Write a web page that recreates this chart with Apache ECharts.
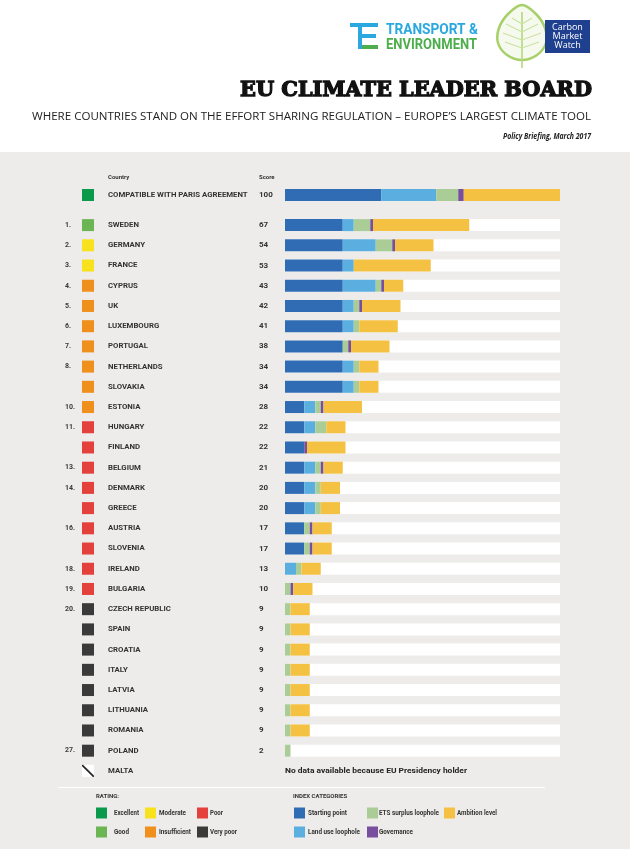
<!DOCTYPE html>
<html><head><meta charset="utf-8">
<script src="https://cdn.jsdelivr.net/npm/echarts@6/dist/echarts.min.js"></script>
<style>
html,body{margin:0;padding:0;background:#fff;}
#c{width:630px;height:849px;background:linear-gradient(#ffffff 0px,#ffffff 152px,#edecea 152px,#edecea 849px);}
</style>
</head><body><div id="c"></div>
<script>
// ---------- DATA ----------
const indexCategories = ['Starting point', 'Land use loophole', 'ETS surplus loophole', 'Governance', 'Ambition level'];
const ratingNames = ['Excellent', 'Good', 'Moderate', 'Insufficient', 'Poor', 'Very poor'];
const ratingKeys = ['excellent', 'good', 'moderate', 'insufficient', 'poor', 'verypoor'];

const parisName = 'COMPATIBLE WITH PARIS AGREEMENT';
const parisScore = 100;
const parisValues = [35, 20, 8, 2, 35]; // in indexCategories order
const maxScore = 100;

const countries = ['SWEDEN', 'GERMANY', 'FRANCE', 'CYPRUS', 'UK', 'LUXEMBOURG', 'PORTUGAL', 'NETHERLANDS', 'SLOVAKIA', 'ESTONIA',
  'HUNGARY', 'FINLAND', 'BELGIUM', 'DENMARK', 'GREECE', 'AUSTRIA', 'SLOVENIA', 'IRELAND', 'BULGARIA', 'CZECH REPUBLIC',
  'SPAIN', 'CROATIA', 'ITALY', 'LATVIA', 'LITHUANIA', 'ROMANIA', 'POLAND', 'MALTA'];
const ranks = ['1.', '2.', '3.', '4.', '5.', '6.', '7.', '8.', '', '10.',
  '11.', '', '13.', '14.', '', '16.', '', '18.', '19.', '20.',
  '', '', '', '', '', '', '27.', ''];
const ratings = ['good', 'moderate', 'moderate', 'insufficient', 'insufficient', 'insufficient', 'insufficient', 'insufficient', 'insufficient', 'insufficient',
  'poor', 'poor', 'poor', 'poor', 'poor', 'poor', 'poor', 'poor', 'poor', 'verypoor',
  'verypoor', 'verypoor', 'verypoor', 'verypoor', 'verypoor', 'verypoor', 'verypoor', 'none'];
const scores = [67, 54, 53, 43, 42, 41, 38, 34, 34, 28, 22, 22, 21, 20, 20, 17, 17, 13, 10, 9, 9, 9, 9, 9, 9, 9, 2, null];
const startingPoint = [21, 21, 21, 21, 21, 21, 21, 21, 21, 7, 7, 7, 7, 7, 7, 7, 7, 0, 0, 0, 0, 0, 0, 0, 0, 0, 0, null];
const landUse = [4, 12, 4, 12, 4, 4, 0, 4, 4, 4, 4, 0, 4, 4, 4, 0, 0, 4, 0, 0, 0, 0, 0, 0, 0, 0, 0, null];
const etsSurplus = [6, 6, 0, 2, 2, 2, 2, 2, 2, 2, 4, 0, 2, 2, 2, 2, 2, 2, 2, 2, 2, 2, 2, 2, 2, 2, 2, null];
const governance = [1, 1, 0, 1, 1, 0, 1, 0, 0, 1, 0, 1, 1, 0, 0, 1, 1, 0, 1, 0, 0, 0, 0, 0, 0, 0, 0, null];
const ambition = [35, 14, 28, 7, 14, 14, 14, 7, 7, 14, 7, 14, 7, 7, 7, 7, 7, 7, 7, 7, 7, 7, 7, 7, 7, 7, 0, null];
const noDataNote = 'No data available because EU Presidency holder';

// ---------- STYLE ----------
const indexColors = ['#2f6cb3', '#5aaee0', '#aacd98', '#774f9c', '#f4c143'];
const ratingColors = { excellent: '#0b9a4b', good: '#6bb553', moderate: '#f8e21d', insufficient: '#ef8f1c', poor: '#e4403c', verypoor: '#3a3a3a' };
const seriesArrays = [startingPoint, landUse, etsSurplus, governance, ambition];

const mctx = document.createElement('canvas').getContext('2d');
function measure(font, text) { mctx.font = font; return mctx.measureText(text).width; }

const FAM = 'Roboto';
let nameSize = 8 * 140 / measure('bold 8px ' + FAM, parisName);
nameSize = Math.max(7, Math.min(9.5, nameSize));

// Malta "no rating" icon
const naCanvas = document.createElement('canvas');
naCanvas.width = 12; naCanvas.height = 12;
(function () {
  const c = naCanvas.getContext('2d');
  c.fillStyle = '#ffffff'; c.fillRect(0, 0, 12, 12);
  c.strokeStyle = '#1a1a1a'; c.lineWidth = 1.6;
  c.beginPath(); c.moveTo(0, 0); c.lineTo(12, 12); c.stroke();
})();

const rich = {
  rank: { width: 17, fontSize: 7, fontFamily: FAM, fontWeight: 'bold', color: '#3a3a3a', align: 'left' },
  sp: { width: 14, align: 'left' },
  name: { width: 151, fontSize: nameSize, fontFamily: FAM, fontWeight: 'bold', color: '#333', align: 'left' },
  score: { width: 16, fontSize: 8, fontFamily: FAM, fontWeight: 'bold', color: '#333', align: 'left' },
  none: { width: 12, height: 12, align: 'left', backgroundColor: { image: naCanvas } }
};
ratingKeys.forEach(k => { rich[k] = { width: 12, height: 12, align: 'left', backgroundColor: ratingColors[k] }; });

function countryLabel(v, i) {
  const s = scores[i] == null ? '' : scores[i];
  return '{rank|' + ranks[i] + '}{' + ratings[i] + '|}{sp|}{name|' + v + '}{score|' + s + '}';
}
function parisLabel(v) {
  return '{rank|}{excellent|}{sp|}{name|' + v + '}{score|' + parisScore + '}';
}

const chart = echarts.init(document.getElementById('c'), null, { renderer: 'canvas' });

const series = [];
indexCategories.forEach((name, k) => {
  series.push({
    name: name, type: 'bar', xAxisIndex: 0, yAxisIndex: 0, stack: 'paris', barWidth: 12,
    itemStyle: { color: indexColors[k] }, data: [parisValues[k]], z: 3, silent: true, animation: false
  });
});
series.push({
  name: 'track', type: 'bar', xAxisIndex: 1, yAxisIndex: 1, stack: 'track', barWidth: 12, barGap: '-100%',
  itemStyle: { color: '#ffffff' }, data: scores.map(s => s == null ? '-' : maxScore), z: 2, silent: true, animation: false
});
indexCategories.forEach((name, k) => {
  series.push({
    name: name, type: 'bar', xAxisIndex: 1, yAxisIndex: 1, stack: 'idx', barWidth: 12, barGap: '-100%',
    itemStyle: { color: indexColors[k] }, data: seriesArrays[k].map(v => v == null ? '-' : v), z: 3, silent: true, animation: false
  });
});

const catAxisCommon = {
  type: 'category', axisLine: { show: false }, axisTick: { show: false }, splitLine: { show: false }
};

chart.setOption({
  animation: false,
  backgroundColor: 'transparent',
  grid: [
    { left: 285, width: 275, top: 185, height: 20 },
    { left: 285, width: 275, top: 215, height: 566 }
  ],
  xAxis: [
    { gridIndex: 0, type: 'value', min: 0, max: maxScore, show: false },
    { gridIndex: 1, type: 'value', min: 0, max: maxScore, show: false }
  ],
  yAxis: [
    Object.assign({ gridIndex: 0, data: [parisName], axisLabel: { margin: 10, interval: 0, formatter: parisLabel, rich: rich } }, catAxisCommon),
    Object.assign({ gridIndex: 1, inverse: true, data: countries, axisLabel: { margin: 10, interval: 0, formatter: countryLabel, rich: rich } }, catAxisCommon)
  ],
  series: series
});

// ---------- DECORATION / TEXT ----------
function scaledText(id, text, font, x, y, targetW, align, fill, extra) {
  const w = measure(font, text);
  const s = targetW ? targetW / w : 1;
  return {
    type: 'text', id: id, x: x, y: y, scaleX: s, silent: true,
    style: Object.assign({ text: text, font: font, fill: fill, align: align, verticalAlign: 'middle' }, extra || {})
  };
}
function line(x1, y1, x2, y2, stroke, w) {
  return { type: 'line', silent: true, shape: { x1: x1, y1: y1, x2: x2, y2: y2 }, style: { stroke: stroke, lineWidth: w } };
}

const g = [];
// Title block
g.push(scaledText('title', 'EU CLIMATE LEADER BOARD', 'bold 21px "DejaVu Serif"', 592, 91, 352, 'right', '#111', { stroke: '#111', lineWidth: 1.3 }));
g.push(scaledText('sub', 'WHERE COUNTRIES STAND ON THE EFFORT SHARING REGULATION \u2013 EUROPE\u2019S LARGEST CLIMATE TOOL', '10px "Open Sans"', 591, 117, 559, 'right', '#222'));
g.push(scaledText('brief', 'Policy Briefing, March 2017', 'italic bold 8px "Open Sans"', 591, 137, 88, 'right', '#222'));

// T&E logo
g.push({ type: 'rect', silent: true, shape: { x: 350, y: 23, width: 28, height: 4 }, style: { fill: '#2aa8df' } });
g.push({ type: 'rect', silent: true, shape: { x: 358, y: 27, width: 4, height: 22 }, style: { fill: '#2aa8df' } });
g.push({ type: 'rect', silent: true, shape: { x: 362, y: 34, width: 14, height: 4 }, style: { fill: '#2aa8df' } });
g.push({ type: 'rect', silent: true, shape: { x: 362, y: 45, width: 16, height: 4 }, style: { fill: '#4cae4c' } });
g.push(scaledText('te1', 'TRANSPORT &', 'bold 14px Roboto', 386, 30, 92, 'left', '#2aa8df'));
g.push(scaledText('te2', 'ENVIRONMENT', 'bold 14px Roboto', 386, 45, 91, 'left', '#4cae4c'));

// Carbon Market Watch logo
g.push({ type: 'polygon', silent: true, shape: { smooth: 0.35, points: [[522, 5], [536, 14], [545, 28], [546, 43], [537, 55], [522, 60], [507, 55], [498, 43], [499, 28], [508, 14]] },
  style: { fill: '#f6faee', stroke: '#a8d06a', lineWidth: 2.5 } });
g.push(line(522, 12, 522, 68, '#b5d77f', 1.6));
[[24, 512, 18, 532, 18], [32, 506, 24, 538, 24], [40, 503, 33, 541, 33], [48, 505, 42, 539, 42]].forEach(v => {
  g.push(line(522, v[0], v[1], v[2], '#c9e2a2', 1.1));
  g.push(line(522, v[0], v[3], v[4], '#c9e2a2', 1.1));
});
g.push({ type: 'rect', silent: true, shape: { x: 545, y: 20, width: 45, height: 33 }, style: { fill: '#1f3f8f' } });
g.push(scaledText('cmw1', 'Carbon', '9px "Open Sans"', 567.5, 27.5, 0, 'center', '#fff'));
g.push(scaledText('cmw2', 'Market', '9px "Open Sans"', 567.5, 36.5, 0, 'center', '#fff'));
g.push(scaledText('cmw3', 'Watch', '9px "Open Sans"', 567.5, 45.5, 0, 'center', '#fff'));

// Column headers
g.push(scaledText('hCountry', 'Country', 'bold 6px ' + FAM, 108, 177.5, 0, 'left', '#333'));
g.push(scaledText('hScore', 'Score', 'bold 6px ' + FAM, 259, 177.5, 0, 'left', '#333'));

// Malta note placed through axes
const noteX = chart.convertToPixel({ xAxisIndex: 1 }, 0);
const noteY = chart.convertToPixel({ yAxisIndex: 1 }, 'MALTA');
g.push(scaledText('note', noDataNote, 'bold 8px ' + FAM, noteX, noteY, 182, 'left', '#222'));

// Bottom legend
g.push(line(58, 787.5, 545, 787.5, '#ffffff', 1));
g.push(scaledText('lr', 'RATING:', 'bold 6px ' + FAM, 96, 796, 0, 'left', '#333'));
g.push(scaledText('li', 'INDEX CATEGORIES', 'bold 6px ' + FAM, 293, 796, 0, 'left', '#333'));
const ratingLegendPos = [[96, 813, 114, 25], [96, 832, 114, 15], [145, 813, 159, 27], [145, 832, 159, 32], [197, 813, 210, 13], [197, 832, 210, 27]];
ratingNames.forEach((n, i) => {
  const p = ratingLegendPos[i];
  g.push({ type: 'rect', silent: true, shape: { x: p[0], y: p[1] - 5.5, width: 11, height: 11 }, style: { fill: ratingColors[ratingKeys[i]] } });
  g.push(scaledText('rl' + i, n, 'bold 7px ' + FAM, p[2], p[1], p[3], 'left', '#333'));
});
const indexLegendPos = [[294, 813, 308, 39], [294, 832, 308, 52], [367, 813, 379, 60], [367, 832, 379, 34], [444, 813, 457, 40]];
indexCategories.forEach((n, i) => {
  const p = indexLegendPos[i];
  g.push({ type: 'rect', silent: true, shape: { x: p[0], y: p[1] - 5.5, width: 11, height: 11 }, style: { fill: indexColors[i] } });
  g.push(scaledText('il' + i, n, 'bold 7px ' + FAM, p[2], p[1], p[3], 'left', '#333'));
});

chart.setOption({ graphic: g });
</script>
</body></html>
